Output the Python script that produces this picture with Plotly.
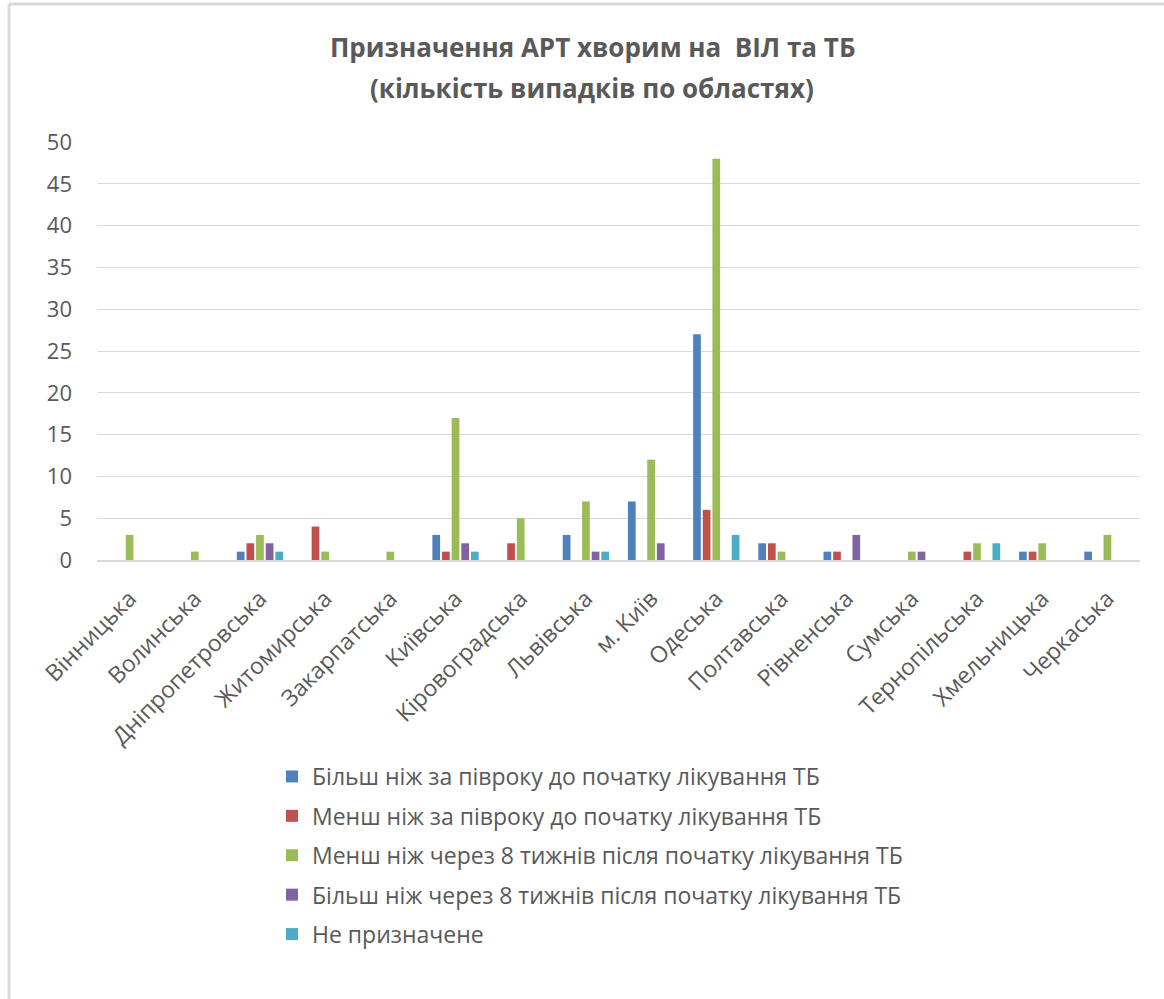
import plotly.graph_objects as go

categories = ["Вінницька", "Волинська", "Дніпропетровська", "Житомирська", "Закарпатська",
              "Київська", "Кіровоградська", "Львівська", "м. Київ", "Одеська", "Полтавська",
              "Рівненська", "Сумська", "Тернопільська", "Хмельницька", "Черкаська"]

series_names = [
    "Більш ніж за півроку до початку лікування ТБ",
    "Менш ніж за півроку до початку лікування ТБ",
    "Менш ніж через 8 тижнів після початку лікування ТБ",
    "Більш ніж через 8 тижнів після початку лікування ТБ",
    "Не призначене",
]
more_half_year_before = [0, 0, 1, 0, 0, 3, 0, 3, 7, 27, 2, 1, 0, 0, 1, 1]
less_half_year_before = [0, 0, 2, 4, 0, 1, 2, 0, 0, 6, 2, 1, 0, 1, 1, 0]
less_8_weeks_after = [3, 1, 3, 1, 1, 17, 5, 7, 12, 48, 1, 0, 1, 2, 2, 3]
more_8_weeks_after = [0, 0, 2, 0, 0, 2, 0, 1, 2, 0, 0, 3, 1, 0, 0, 0]
not_assigned = [0, 0, 1, 0, 0, 1, 0, 1, 0, 3, 0, 0, 0, 2, 0, 0]

title_lines = ["Призначення АРТ хворим на  ВІЛ та ТБ", "(кількість випадків по областях)"]

colors = ["#4F81BD", "#C0504D", "#9BBB59", "#8064A2", "#4BACC6"]
values = [more_half_year_before, less_half_year_before, less_8_weeks_after,
          more_8_weeks_after, not_assigned]

fig = go.Figure()
for i, (name, vals, col) in enumerate(zip(series_names, values, colors)):
    fig.add_trace(go.Bar(x=categories, y=vals, name=name, marker_color=col,
                         marker_line_width=0, legendgroup=f"g{i}"))

W, H = 1164, 999
ml, mr, mt, mb = 97, 24, 142, 439
pw, ph = W - ml - mr, H - mt - mb

def px_x(px):
    return (px - ml) / pw

def px_y(py):
    return (H - mb - py) / ph

gray = "#595959"
annotations = []
for line, ypx in zip(title_lines, [47, 88]):
    annotations.append(dict(text=f"<b>{line}</b>", xref="paper", yref="paper",
                            x=px_x(592), y=px_y(ypx), xanchor="center", yanchor="middle",
                            showarrow=False,
                            font=dict(family="Open Sans", size=26, color=gray)))

fig.update_layout(
    width=W, height=H,
    margin=dict(l=ml, r=mr, t=mt, b=mb),
    paper_bgcolor="white", plot_bgcolor="white",
    barmode="group", bargap=0.26, bargroupgap=0.2,
    font=dict(family="Open Sans", color=gray),
    yaxis=dict(range=[0, 50], dtick=5, showgrid=True, gridcolor="#d9d9d9", gridwidth=1,
               zeroline=False, showline=False, ticks="", ticklabelstandoff=24,
               tickfont=dict(size=22, color=gray)),
    xaxis=dict(showline=True, linecolor="#d9d9d9", linewidth=2, ticks="", tickangle=-45,
               ticklabelstandoff=14, tickfont=dict(size=23, color=gray)),
    legend=dict(x=px_x(272), xanchor="left", y=px_y(755), yanchor="top",
                font=dict(size=23, color=gray), tracegroupgap=6.5,
                bgcolor="rgba(0,0,0,0)"),
    annotations=annotations,
    shapes=[
        dict(type="line", xref="paper", yref="paper", x0=px_x(9), x1=px_x(1300),
             y0=px_y(4), y1=px_y(4), line=dict(color="#d9d9d9", width=3)),
        dict(type="line", xref="paper", yref="paper", x0=px_x(9), x1=px_x(9),
             y0=px_y(4), y1=px_y(1100), line=dict(color="#d9d9d9", width=3)),
    ],
)

fig.write_html("out.html")
